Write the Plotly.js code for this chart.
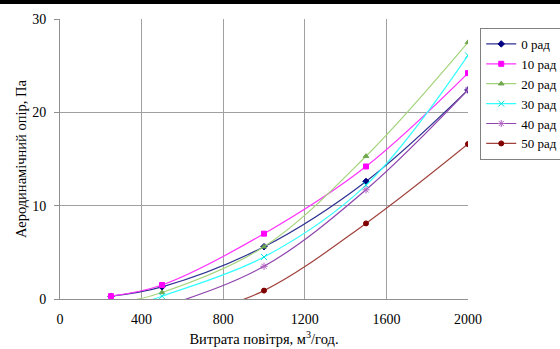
<!DOCTYPE html>
<html>
<head>
<meta charset="utf-8">
<script src="https://cdn.plot.ly/plotly-3.0.1.min.js"></script>
<style>
  html, body { margin: 0; padding: 0; background: #fff; }
  #topbar { position: absolute; left: 0; top: 0; width: 560px; height: 4px; background: #000; z-index: 10; }
  #chart { width: 560px; height: 349px; }
</style>
</head>
<body>
<div id="topbar"></div>
<div id="chart"></div>
<script>
const airflow = [250, 500, 1000, 1500, 2000];
const seriesNames = ["0 рад", "10 рад", "20 рад", "30 рад", "40 рад", "50 рад"];
const rad0  = [0.3, 1.3, 5.6, 12.6, 22.4];
const rad10 = [0.3, 1.5, 7.0, 14.2, 24.2];
const rad20 = [-0.6, 0.7, 5.6, 15.3, 27.5];
const rad30 = [-1.5, 0.3, 4.5, 12.2, 26.1];
const rad40 = [-2.5, -0.9, 3.5, 11.7, 22.4];
const rad50 = [-5.5, -3.0, 0.9, 8.1, 16.6];
const xTicks = [0, 400, 800, 1200, 1600, 2000];
const yTicks = [0, 10, 20, 30];

const values = [rad0, rad10, rad20, rad30, rad40, rad50];
const lineColors = ["#2E3192", "#FF33FF", "#A3D37A", "#33FFFF", "#8E44AD", "#A0413C"];
const markerColors = ["#000080", "#FF00FF", "#70A850", "#00E0E0", "#B060C0", "#800000"];
const symbols = ["diamond", "square", "triangle-up", "x-thin-open", "asterisk-open", "circle"];
const sizes = [5, 5, 5, 6, 6, 5];

const traces = values.map((v, i) => ({
  x: airflow,
  y: v,
  name: seriesNames[i],
  type: "scatter",
  mode: "lines+markers",
  line: { color: lineColors[i], width: 1.2, shape: "spline", smoothing: 1 },
  marker: { color: markerColors[i], symbol: symbols[i], size: sizes[i],
            line: { color: markerColors[i], width: 1 } }
}));

const font = "'Liberation Serif', 'Times New Roman', serif";
const layout = {
  width: 560, height: 349,
  margin: { l: 60, r: 92, t: 19, b: 50, autoexpand: false },
  paper_bgcolor: "#fff", plot_bgcolor: "#fff",
  font: { family: font, size: 14, color: "#000" },
  showlegend: true,
  legend: {
    x: 1.03, y: 0.968, xanchor: "left", yanchor: "top",
    bordercolor: "#808080", borderwidth: 1, bgcolor: "#fff",
    font: { family: font, size: 13, color: "#000" },
    tracegroupgap: 0, itemwidth: 30
  },
  xaxis: {
    range: [0, 2000], tickvals: xTicks, ticktext: xTicks.map(String),
    showgrid: true, gridcolor: "#a0a0a0", gridwidth: 1,
    zeroline: false, showline: true, linecolor: "#909090",
    ticks: "outside", ticklen: 7, tickcolor: "rgba(0,0,0,0)",
    tickfont: { family: font, size: 14 },
    title: { text: "Витрата повітря, м<sup>3</sup>/год.", font: { family: font, size: 14.5 }, standoff: 8 },
    automargin: false, fixedrange: true
  },
  yaxis: {
    range: [0, 30], tickvals: yTicks, ticktext: yTicks.map(String),
    showgrid: true, gridcolor: "#a0a0a0", gridwidth: 1,
    zeroline: false, showline: true, linecolor: "#909090",
    ticks: "outside", ticklen: 5, tickcolor: "#909090",
    ticklabelstandoff: 5,
    tickfont: { family: font, size: 14 },
    title: { text: "Аеродинамічний опір, Па", font: { family: font, size: 14.5 }, standoff: 2 },
    automargin: false, fixedrange: true
  }
};

Plotly.newPlot("chart", traces, layout, { displayModeBar: false, staticPlot: true });
</script>
</body>
</html>
